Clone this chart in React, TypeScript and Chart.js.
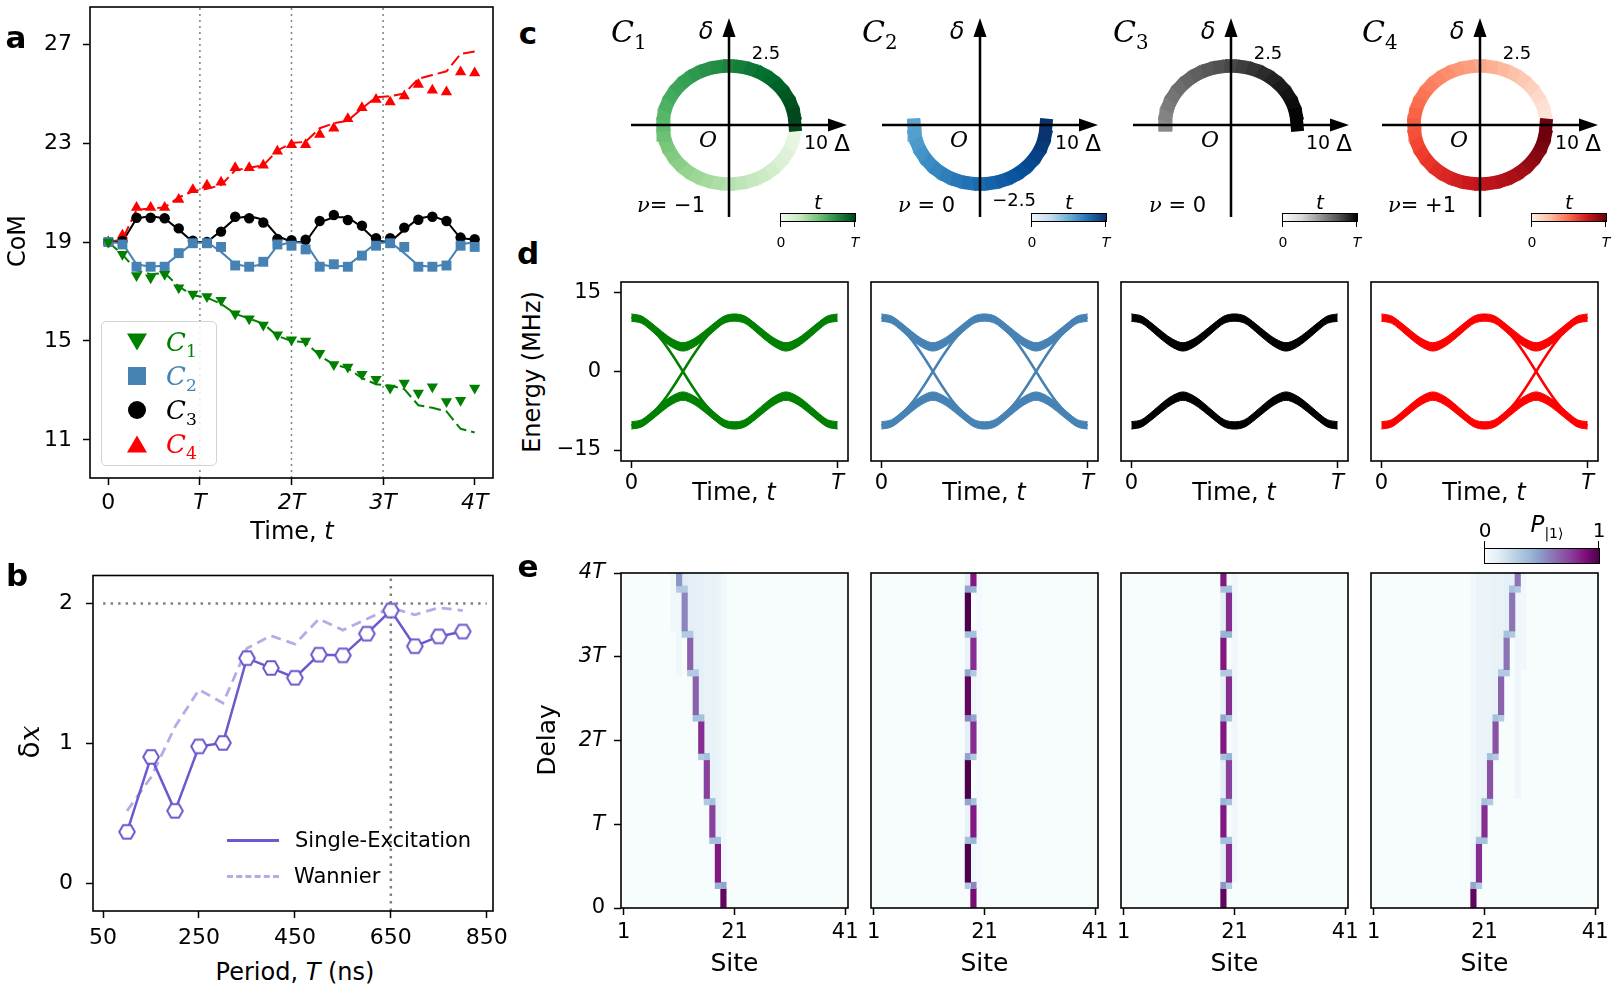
import React, { useEffect, useRef } from 'react';
import { Chart, registerables } from 'chart.js';

Chart.register(...registerables);

const FONT = '"DejaVu Sans", sans-serif';
const SERIF = '"DejaVu Serif", serif';
Chart.defaults.font.family = FONT;
Chart.defaults.color = '#000';

// ================= DATA =================
// ---- panel a : centre of mass vs time ----
const timeA = [0, 0.154, 0.308, 0.462, 0.615, 0.769, 0.923, 1.077, 1.231, 1.385, 1.538, 1.692, 1.846, 2.0, 2.154, 2.308, 2.462, 2.615, 2.769, 2.923, 3.077, 3.231, 3.385, 3.538, 3.692, 3.846, 4.0];
const comC1 = [19.0, 18.5, 17.65, 17.55, 17.7, 17.15, 16.9, 16.8, 16.65, 16.1, 15.9, 15.65, 15.25, 15.05, 15.0, 14.5, 14.05, 13.95, 13.65, 13.45, 13.1, 13.3, 12.9, 13.15, 12.55, 12.6, 13.1];
const comC2 = [19.0, 18.9, 18.0, 18.0, 18.0, 18.55, 18.95, 18.95, 18.8, 18.05, 18.0, 18.2, 18.9, 18.85, 18.7, 18.0, 18.1, 18.0, 18.45, 18.85, 18.95, 18.8, 18.0, 18.0, 18.05, 18.85, 18.8];
const comC3 = [19.0, 19.04, 19.98, 19.98, 19.96, 19.55, 19.05, 19.0, 19.42, 20.02, 19.96, 19.79, 19.12, 19.07, 19.09, 19.85, 20.09, 19.89, 19.66, 19.15, 19.15, 19.58, 19.9, 20.02, 19.85, 19.18, 19.11];
const comC4 = [19.0, 19.27, 20.39, 20.39, 20.39, 20.72, 21.11, 21.29, 21.42, 22.0, 22.0, 22.1, 22.67, 22.93, 22.93, 23.35, 23.6, 23.98, 24.43, 24.76, 24.66, 24.9, 25.37, 25.13, 25.06, 25.87, 25.83];
const theoryC1 = [19.0, 18.5, 17.85, 17.7, 17.75, 17.2, 16.85, 16.75, 16.5, 16.1, 15.9, 15.7, 15.2, 15.0, 14.95, 14.4, 14.05, 13.9, 13.5, 13.25, 13.2, 13.05, 12.4, 12.3, 12.15, 11.45, 11.3];
const theoryC2 = [19.0, 18.95, 18.1, 18.0, 18.05, 18.5, 18.95, 19.0, 18.6, 18.1, 18.0, 18.1, 18.85, 19.0, 18.95, 18.1, 18.0, 18.05, 18.5, 18.95, 19.0, 18.55, 18.05, 18.0, 18.1, 18.9, 19.0];
const theoryC3 = [19.0, 19.0, 19.95, 20.05, 19.95, 19.5, 19.0, 19.0, 19.45, 19.95, 20.05, 19.9, 19.25, 19.0, 19.0, 19.8, 20.0, 20.0, 19.6, 19.05, 19.0, 19.5, 19.95, 20.05, 19.85, 19.15, 19.1];
const theoryC4 = [19.0, 19.1, 20.3, 20.35, 20.4, 20.8, 21.05, 21.15, 21.3, 21.9, 22.0, 22.1, 22.7, 23.0, 23.05, 23.6, 23.8, 23.9, 24.4, 24.85, 24.9, 25.0, 25.6, 25.75, 25.9, 26.6, 26.7];
const timeTicks = [0, 1, 2, 3, 4];
const timeTickLabels = ['0', 'T', '2T', '3T', '4T'];
const comTicks = [11, 15, 19, 23, 27];
const periodMarks = [1, 2, 3];

// ---- panel b : displacement vs period ----
const periodB = [100, 150, 200, 250, 300, 350, 400, 450, 500, 550, 600, 650, 700, 750, 800];
const shiftSingle = [0.37, 0.905, 0.52, 0.98, 1.005, 1.61, 1.54, 1.47, 1.635, 1.63, 1.785, 1.95, 1.695, 1.765, 1.8];
const shiftWannier = [0.52, 0.76, 1.12, 1.385, 1.29, 1.68, 1.77, 1.71, 1.89, 1.81, 1.89, 1.97, 1.92, 1.97, 1.95];
const periodTicks = [50, 250, 450, 650, 850];
const shiftTicks = [0, 1, 2];
const idealShift = 2;
const bestPeriod = 650;

// ---- panel c : pumping contours in (Delta, delta) plane ----
const contourDelta = [10, 9.85, 9.4, 8.66, 7.66, 6.43, 5, 3.42, 1.74, 0, -1.74, -3.42, -5, -6.43, -7.66, -8.66, -9.4, -9.85, -10, -9.85, -9.4, -8.66, -7.66, -6.43, -5, -3.42, -1.74, 0, 1.74, 3.42, 5, 6.43, 7.66, 8.66, 9.4, 9.85, 10];
const contourSmall = [0, 0.43, 0.86, 1.25, 1.61, 1.92, 2.17, 2.35, 2.46, 2.5, 2.46, 2.35, 2.17, 1.92, 1.61, 1.25, 0.86, 0.43, 0, -0.43, -0.86, -1.25, -1.61, -1.92, -2.17, -2.35, -2.46, -2.5, -2.46, -2.35, -2.17, -1.92, -1.61, -1.25, -0.86, -0.43, 0];
const windingNumbers = ['= \u22121', ' = 0', ' = 0', '= +1'];

// ---- panel d : instantaneous spectra ----
const tBand = [0, 0.05, 0.1, 0.15, 0.2, 0.25, 0.3, 0.35, 0.4, 0.45, 0.5, 0.55, 0.6, 0.65, 0.7, 0.75, 0.8, 0.85, 0.9, 0.95, 1];
const upperBandTop = [11.0, 10.6, 9.2, 7.6, 6.2, 5.5, 6.2, 7.6, 9.2, 10.6, 11.0, 10.6, 9.2, 7.6, 6.2, 5.5, 6.2, 7.6, 9.2, 10.6, 11.0];
const upperBandBottom = [9.6, 9.2, 7.7, 6.0, 4.6, 3.9, 4.6, 6.0, 7.7, 9.2, 9.6, 9.2, 7.7, 6.0, 4.6, 3.9, 4.6, 6.0, 7.7, 9.2, 9.6];
const lowerBandTop = [-9.6, -9.2, -7.7, -6.0, -4.6, -3.9, -4.6, -6.0, -7.7, -9.2, -9.6, -9.2, -7.7, -6.0, -4.6, -3.9, -4.6, -6.0, -7.7, -9.2, -9.6];
const lowerBandBottom = [-11.0, -10.6, -9.2, -7.6, -6.2, -5.5, -6.2, -7.6, -9.2, -10.6, -11.0, -10.6, -9.2, -7.6, -6.2, -5.5, -6.2, -7.6, -9.2, -10.6, -11.0];
const tEdgeFirst = [0, 0.05, 0.1, 0.15, 0.2, 0.25, 0.3, 0.35, 0.4, 0.45, 0.5];
const tEdgeSecond = [0.5, 0.55, 0.6, 0.65, 0.7, 0.75, 0.8, 0.85, 0.9, 0.95, 1];
const edgeDown = [10.3, 9.8, 8.1, 5.9, 3.1, 0, -3.1, -5.9, -8.1, -9.8, -10.3];
const edgeUp = [-10.3, -9.8, -8.1, -5.9, -3.1, 0, 3.1, 5.9, 8.1, 9.8, 10.3];
const edgeHalves = [[true, false], [true, true], [false, false], [false, true]];
const energyTicks = [-15, 0, 15];
const bandTicks = [0, 1];
const bandTickLabels = ['0', 'T'];

// ---- panel e : site populations (site, firstRow, lastRow, P) ; row = T/13 ----
const siteTicks = [1, 21, 41];
const heatC1 = [[19, 0, 2, 0.95], [19, 3, 3, 0.45], [18, 3, 3, 0.4], [18, 4, 9, 0.85], [18, 10, 10, 0.35], [17, 10, 10, 0.35], [17, 11, 15, 0.75], [17, 16, 16, 0.35], [16, 16, 16, 0.3], [16, 17, 22, 0.75], [16, 23, 23, 0.35], [15, 23, 23, 0.3], [15, 24, 28, 0.8], [15, 29, 29, 0.35], [14, 29, 29, 0.35], [14, 30, 35, 0.65], [14, 36, 36, 0.3], [13, 36, 36, 0.3], [13, 37, 41, 0.65], [13, 42, 42, 0.3], [12, 42, 42, 0.3], [12, 43, 48, 0.55], [12, 49, 49, 0.3], [11, 49, 49, 0.3], [11, 50, 51, 0.5]];
const hazeC1 = [[19, 19, 4, 51, 0.03], [18, 18, 11, 51, 0.07], [17, 17, 17, 51, 0.08], [16, 16, 24, 51, 0.08], [15, 15, 30, 51, 0.09], [14, 14, 37, 51, 0.1], [13, 13, 43, 51, 0.1], [12, 12, 50, 51, 0.12], [11, 11, 36, 48, 0.03], [10, 10, 43, 51, 0.04]];
const heatC2 = [[19, 0, 2, 0.9], [19, 3, 3, 0.55], [18, 3, 3, 0.3], [18, 4, 9, 1.0], [18, 10, 10, 0.35], [19, 10, 10, 0.4], [19, 11, 15, 0.85], [19, 16, 16, 0.35], [18, 16, 16, 0.45], [18, 17, 22, 1.0], [18, 23, 23, 0.45], [19, 23, 23, 0.3], [19, 24, 28, 0.8], [19, 29, 29, 0.45], [18, 29, 29, 0.55], [18, 30, 35, 0.95], [18, 36, 36, 0.45], [19, 36, 36, 0.3], [19, 37, 41, 0.8], [19, 42, 42, 0.35], [18, 42, 42, 0.35], [18, 43, 48, 1.0], [18, 49, 49, 0.45], [19, 49, 49, 0.4], [19, 50, 51, 0.85]];
const hazeC2 = [[18, 18, 11, 15, 0.08], [18, 18, 24, 28, 0.1], [18, 18, 37, 41, 0.08], [18, 18, 50, 51, 0.1], [19, 19, 4, 9, 0.04], [19, 19, 30, 35, 0.05], [20, 20, 0, 51, 0.02]];
const heatC3 = [[19, 0, 2, 0.95], [19, 3, 3, 0.5], [20, 3, 3, 0.3], [20, 4, 9, 0.8], [20, 10, 10, 0.35], [19, 10, 10, 0.35], [19, 11, 15, 0.85], [19, 16, 16, 0.4], [20, 16, 16, 0.35], [20, 17, 22, 0.75], [20, 23, 23, 0.4], [19, 23, 23, 0.35], [19, 24, 28, 0.85], [19, 29, 29, 0.45], [20, 29, 29, 0.35], [20, 30, 35, 0.8], [20, 36, 36, 0.3], [19, 36, 36, 0.3], [19, 37, 41, 0.85], [19, 42, 42, 0.4], [20, 42, 42, 0.4], [20, 43, 48, 0.8], [20, 49, 49, 0.35], [19, 49, 49, 0.35], [19, 50, 51, 0.85]];
const hazeC3 = [[19, 19, 4, 9, 0.1], [19, 19, 17, 22, 0.1], [19, 19, 30, 35, 0.08], [19, 19, 43, 48, 0.1], [21, 21, 4, 51, 0.04]];
const heatC4 = [[19, 0, 2, 0.95], [19, 3, 3, 0.45], [20, 3, 3, 0.3], [20, 4, 9, 0.8], [20, 10, 10, 0.35], [21, 10, 10, 0.35], [21, 11, 15, 0.8], [21, 16, 16, 0.35], [22, 16, 16, 0.3], [22, 17, 22, 0.7], [22, 23, 23, 0.35], [23, 23, 23, 0.3], [23, 24, 28, 0.7], [23, 29, 29, 0.35], [24, 29, 29, 0.3], [24, 30, 35, 0.65], [24, 36, 36, 0.3], [25, 36, 36, 0.3], [25, 37, 41, 0.6], [25, 42, 42, 0.35], [26, 42, 42, 0.3], [26, 43, 48, 0.6], [26, 49, 49, 0.35], [27, 49, 49, 0.3], [27, 50, 51, 0.6]];
const hazeC4 = [[19, 19, 4, 51, 0.03], [20, 20, 11, 51, 0.06], [21, 21, 17, 51, 0.07], [22, 22, 24, 51, 0.07], [23, 23, 30, 51, 0.08], [24, 24, 37, 51, 0.08], [25, 25, 43, 51, 0.09], [26, 26, 50, 51, 0.1], [27, 27, 17, 48, 0.04], [28, 28, 37, 51, 0.03]];
const rowsPerPeriod = 13;

// ================= STYLE / LAYOUT =================
const COLORS = ['#008000', '#4682b4', '#000000', '#ff0000'];
const GREENS = ['#f7fcf5', '#e5f5e0', '#c7e9c0', '#a1d99b', '#74c476', '#41ab5d', '#238b45', '#006d2c', '#00441b'];
const BLUES = ['#f7fbff', '#deebf7', '#c6dbef', '#9ecae1', '#6baed6', '#4292c6', '#2171b5', '#08519c', '#08306b'];
const GREYS = ['#ffffff', '#f0f0f0', '#d9d9d9', '#bdbdbd', '#969696', '#737373', '#525252', '#252525', '#000000'];
const REDS = ['#fff5f0', '#fee0d2', '#fcbba1', '#fc9272', '#fb6a4a', '#ef3b2c', '#cb181d', '#a50f15', '#67000d'];
const BUPU = ['#f7fcfd', '#e0ecf4', '#bfd3e6', '#9ebcda', '#8c96c6', '#8c6bb1', '#88419d', '#810f7c', '#4d004b'];
const CMAPS = [GREENS, BLUES, GREYS, REDS];
const COLS = [621, 871, 1121, 1371];
const COL_W = 227;
const C_ORIGINS = [729, 980, 1231, 1480];

function hexRgb(h: string) {
  return [parseInt(h.slice(1, 3), 16), parseInt(h.slice(3, 5), 16), parseInt(h.slice(5, 7), 16)];
}
function cmap(stops: string[], v: number) {
  const c = Math.min(1, Math.max(0, v));
  const n = stops.length - 1;
  const f = c * n;
  const i = Math.min(n - 1, Math.floor(f));
  const u = f - i;
  const a = hexRgb(stops[i]);
  const b = hexRgb(stops[i + 1]);
  return `rgb(${Math.round(a[0] + (b[0] - a[0]) * u)},${Math.round(a[1] + (b[1] - a[1]) * u)},${Math.round(a[2] + (b[2] - a[2]) * u)})`;
}
function gradientCss(stops: string[]) {
  return `linear-gradient(to right, ${stops.join(', ')})`;
}

type Box = { l: number; t: number; w: number; h: number };
type Margin = { l: number; t: number; r: number; b: number };

const framePlugin = {
  id: 'frame',
  afterDraw(chart: any) {
    const { ctx, chartArea: a } = chart;
    ctx.save();
    ctx.strokeStyle = '#000';
    ctx.lineWidth = 1.6;
    ctx.strokeRect(a.left, a.top, a.right - a.left, a.bottom - a.top);
    ctx.restore();
  },
};

const heatBgPlugin = {
  id: 'heatBg',
  beforeDatasetsDraw(chart: any) {
    const { ctx, chartArea: a } = chart;
    ctx.save();
    ctx.fillStyle = BUPU[0];
    ctx.fillRect(a.left, a.top, a.right - a.left, a.bottom - a.top);
    ctx.restore();
  },
};

const AXIS_DELTA_RANGE = [-14.85, 17.88];
const AXIS_SMALL_RANGE = [-3.9, 4.53];
const arrowPlugin = {
  id: 'arrows',
  afterDatasetsDraw(chart: any) {
    const { ctx, scales } = chart;
    const sx = scales.x;
    const sy = scales.y;
    const ox = sx.getPixelForValue(0);
    const oy = sy.getPixelForValue(0);
    const x0 = sx.getPixelForValue(AXIS_DELTA_RANGE[0]);
    const x1 = sx.getPixelForValue(AXIS_DELTA_RANGE[1]);
    const y0 = sy.getPixelForValue(AXIS_SMALL_RANGE[0]);
    const y1 = sy.getPixelForValue(AXIS_SMALL_RANGE[1]);
    ctx.save();
    ctx.strokeStyle = '#000';
    ctx.fillStyle = '#000';
    ctx.lineWidth = 2.5;
    ctx.beginPath();
    ctx.moveTo(x0, oy);
    ctx.lineTo(x1 - 15, oy);
    ctx.moveTo(ox, y0);
    ctx.lineTo(ox, y1 + 15);
    ctx.stroke();
    ctx.beginPath();
    ctx.moveTo(x1, oy);
    ctx.lineTo(x1 - 19, oy - 6.5);
    ctx.lineTo(x1 - 19, oy + 6.5);
    ctx.closePath();
    ctx.fill();
    ctx.beginPath();
    ctx.moveTo(ox, y1);
    ctx.lineTo(ox - 6.5, y1 + 19);
    ctx.lineTo(ox + 6.5, y1 + 19);
    ctx.closePath();
    ctx.fill();
    ctx.restore();
  },
};

function linAxis(o: any) {
  return {
    type: 'linear',
    min: o.min,
    max: o.max,
    display: o.show,
    offset: false,
    afterBuildTicks: (s: any) => {
      s.ticks = (o.ticks || []).map((v: number) => ({ value: v }));
    },
    afterFit: (s: any) => {
      if (!o.show) return;
      if (o.horiz) s.height = o.fit;
      else s.width = o.fit;
      s.paddingLeft = 0;
      s.paddingRight = 0;
      s.paddingTop = 0;
      s.paddingBottom = 0;
    },
    grid: { display: true, drawOnChartArea: false, drawTicks: true, tickLength: 7, tickColor: '#000', tickWidth: 1.5, offset: false },
    border: { display: false },
    ticks: {
      color: '#000',
      padding: o.pad ?? 6,
      autoSkip: false,
      maxRotation: 0,
      minRotation: 0,
      font: (ctx: any) => ({ family: FONT, size: o.size ?? 21, style: ctx.tick && String(ctx.tick.label).includes('T') ? 'italic' : 'normal' }),
      callback: (v: any) => (o.fmt ? o.fmt(Number(v)) : String(v)),
    },
  };
}

function baseOptions(m: Margin, showX: boolean, showY: boolean, x: any, y: any) {
  return {
    responsive: false,
    animation: false,
    devicePixelRatio: 1,
    events: [],
    layout: { padding: { left: showY ? 0 : m.l, right: m.r, top: m.t, bottom: showX ? 0 : m.b } },
    plugins: { legend: { display: false }, tooltip: { enabled: false } },
    scales: { x, y },
  };
}

function ChartCanvas({ box, m, build }: { box: Box; m: Margin; build: () => any }) {
  const ref = useRef<HTMLCanvasElement>(null);
  const W = box.w + m.l + m.r;
  const H = box.h + m.t + m.b;
  useEffect(() => {
    const chart = new Chart(ref.current as HTMLCanvasElement, build());
    return () => chart.destroy();
  }, []);
  return <canvas ref={ref} width={W} height={H} style={{ position: 'absolute', left: box.l - m.l, top: box.t - m.t, width: W, height: H }} />;
}

function Txt({ x, y, size = 22, anchor = 'middle', rotate = 0, weight = 'normal', color = '#000', family = FONT, italic = false, children }: any) {
  const tx = anchor === 'start' ? '0%' : anchor === 'end' ? '-100%' : '-50%';
  return (
    <div
      style={{
        position: 'absolute', left: x, top: y, transform: `translate(${tx}, -50%) rotate(${rotate}deg)`,
        fontSize: size, fontFamily: family, fontWeight: weight, fontStyle: italic ? 'italic' : 'normal',
        color, whiteSpace: 'nowrap', lineHeight: 1,
      }}
    >
      {children}
    </div>
  );
}

const I = ({ children }: any) => <span style={{ fontStyle: 'italic' }}>{children}</span>;
const CalC = ({ k, size = 28, color = '#000' }: any) => (
  <span style={{ fontFamily: SERIF, fontStyle: 'italic', fontSize: size, color }}>
    C<span style={{ fontStyle: 'normal', fontSize: size * 0.66, position: 'relative', top: size * 0.22 }}>{k}</span>
  </span>
);

// ================= PANEL A =================
function buildA() {
  const series = [comC1, comC2, comC3, comC4];
  const theories = [theoryC1, theoryC2, theoryC3, theoryC4];
  const styles = ['triangle', 'rect', 'circle', 'triangle'];
  const radii = [6.5, 7, 5.2, 6.5];
  const rot = [180, 0, 0, 0];
  const datasets: any[] = [];
  series.forEach((s, k) => {
    datasets.push({
      data: timeA.map((t, i) => ({ x: t, y: s[i] })), showLine: false, order: 0,
      pointStyle: styles[k], pointRadius: radii[k], pointRotation: rot[k],
      pointBackgroundColor: COLORS[k], pointBorderColor: COLORS[k], pointBorderWidth: 0,
    });
  });
  theories.forEach((s, k) => {
    datasets.push({
      data: timeA.map((t, i) => ({ x: t, y: s[i] })), order: 1, pointRadius: 0,
      borderColor: COLORS[k], borderWidth: 2, borderDash: k === 0 || k === 3 ? [12, 5] : [],
    });
  });
  periodMarks.forEach((p) => {
    datasets.push({ data: [{ x: p, y: 9.46 }, { x: p, y: 28.5 }], order: 2, pointRadius: 0, borderColor: '#808080', borderWidth: 1.5, borderDash: [2, 4] });
  });
  const m = { l: 85, t: 5, r: 20, b: 40 };
  return {
    type: 'line',
    data: { datasets },
    options: baseOptions(m, true, true,
      linAxis({ min: -0.2, max: 4.2, ticks: timeTicks, fmt: (v: number) => timeTickLabels[timeTicks.indexOf(v)], size: 22, pad: 5, show: true, fit: m.b, horiz: true }),
      linAxis({ min: 9.46, max: 28.5, ticks: comTicks, size: 22, pad: 11, show: true, fit: m.l, horiz: false })),
    plugins: [framePlugin],
  };
}

function LegendA() {
  const marker = (k: number) => {
    if (k === 0) return <div style={{ width: 0, height: 0, borderLeft: '10px solid transparent', borderRight: '10px solid transparent', borderTop: `17px solid ${COLORS[0]}` }} />;
    if (k === 1) return <div style={{ width: 18, height: 18, background: COLORS[1] }} />;
    if (k === 2) return <div style={{ width: 18, height: 18, borderRadius: 9, background: COLORS[2] }} />;
    return <div style={{ width: 0, height: 0, borderLeft: '10px solid transparent', borderRight: '10px solid transparent', borderBottom: `17px solid ${COLORS[3]}` }} />;
  };
  const ys = [342, 376, 410, 444];
  return (
    <>
      <div style={{ position: 'absolute', left: 101, top: 321, width: 114, height: 143, border: '1.5px solid #d3d3d3', borderRadius: 5, background: 'rgba(255,255,255,0.85)' }} />
      {ys.map((y, k) => (
        <React.Fragment key={k}>
          <div style={{ position: 'absolute', left: 137, top: y, transform: 'translate(-50%,-50%)' }}>{marker(k)}</div>
          <Txt x={166} y={y} anchor="start"><CalC k={k + 1} size={26} color={COLORS[k]} /></Txt>
        </React.Fragment>
      ))}
    </>
  );
}

// ================= PANEL B =================
function hexMarker(color: string) {
  const c = document.createElement('canvas');
  c.width = 20;
  c.height = 20;
  const g = c.getContext('2d') as CanvasRenderingContext2D;
  g.beginPath();
  for (let k = 0; k < 6; k++) {
    const a = (Math.PI / 3) * k;
    const px = 10 + 7.8 * Math.cos(a);
    const py = 10 + 7.8 * Math.sin(a);
    if (k === 0) g.moveTo(px, py);
    else g.lineTo(px, py);
  }
  g.closePath();
  g.fillStyle = '#fff';
  g.fill();
  g.lineWidth = 2;
  g.strokeStyle = color;
  g.stroke();
  return c;
}

function buildB() {
  const m = { l: 80, t: 10, r: 25, b: 45 };
  const datasets: any[] = [
    { data: periodB.map((p, i) => ({ x: p, y: shiftSingle[i] })), order: 0, borderColor: '#6a5acd', borderWidth: 2.5, pointStyle: hexMarker('#6a5acd'), pointRadius: 8 },
    { data: periodB.map((p, i) => ({ x: p, y: shiftWannier[i] })), order: 1, borderColor: '#b4ace6', borderWidth: 2.8, borderDash: [10, 6], pointRadius: 0 },
    { data: [{ x: 50, y: idealShift }, { x: 850, y: idealShift }], order: 2, borderColor: '#808080', borderWidth: 2.5, borderDash: [2.5, 5], pointRadius: 0 },
    { data: [{ x: bestPeriod, y: -0.195 }, { x: bestPeriod, y: 2.2 }], order: 2, borderColor: '#808080', borderWidth: 2.5, borderDash: [2.5, 5], pointRadius: 0 },
  ];
  return {
    type: 'line',
    data: { datasets },
    options: baseOptions(m, true, true,
      linAxis({ min: 29, max: 863, ticks: periodTicks, size: 22, pad: 7, show: true, fit: m.b, horiz: true }),
      linAxis({ min: -0.195, max: 2.2, ticks: shiftTicks, size: 22, pad: 13, show: true, fit: m.l, horiz: false })),
    plugins: [framePlugin],
  };
}

// ================= PANEL C =================
function buildC(k: number) {
  const n = contourDelta.length - 1;
  const pts = contourDelta.map((d, i) => {
    const s = contourSmall[i];
    const y = k === 0 ? -s : k === 1 ? -Math.abs(s) : k === 2 ? Math.abs(s) : s;
    return { x: d, y };
  });
  const m = { l: 0, t: 0, r: 0, b: 0 };
  return {
    type: 'line',
    data: {
      datasets: [{
        data: pts, pointRadius: 0, borderWidth: 13, borderCapStyle: 'square', borderColor: cmap(CMAPS[k], 0.5),
        segment: { borderColor: (ctx: any) => cmap(CMAPS[k], 0.06 + (0.94 * (ctx.p0DataIndex + 0.5)) / n) },
      }],
    },
    options: baseOptions(m, false, false,
      { type: 'linear', display: false, min: -110 / 6.6, max: 140 / 6.6 },
      { type: 'linear', display: false, min: -125 / 23.6, max: 125 / 23.6 }),
    plugins: [arrowPlugin],
  };
}

function PanelCLabels({ k }: { k: number }) {
  const ox = C_ORIGINS[k];
  const cb = CMAPS[k];
  const cbStops = [cmap(cb, 0.06), cmap(cb, 0.25), cmap(cb, 0.5), cmap(cb, 0.75), cmap(cb, 1)];
  return (
    <>
      <Txt x={ox - 118} y={32} anchor="start"><CalC k={k + 1} size={30} /></Txt>
      <Txt x={ox - 23} y={31} size={24} italic>δ</Txt>
      {k === 1 ? <Txt x={ox + 34} y={200} size={18}>−2.5</Txt> : <Txt x={ox + 37} y={53} size={18}>2.5</Txt>}
      <Txt x={ox - 21} y={140} size={22} family={SERIF} italic>O</Txt>
      <Txt x={ox + 87} y={142} size={19}>10</Txt>
      <Txt x={ox + 113} y={143} size={23}>Δ</Txt>
      <Txt x={k === 0 || k === 3 ? ox - 92 : ox - 82} y={205} anchor="start" size={21}>
        <span style={{ fontFamily: SERIF, fontStyle: 'italic' }}>ν</span>{windingNumbers[k]}
      </Txt>
      <div style={{ position: 'absolute', left: ox + 51, top: 213, width: 74, height: 7, background: gradientCss(cbStops), border: '1px solid #000' }} />
      <div style={{ position: 'absolute', left: ox + 51, top: 220, width: 1.2, height: 7, background: '#000' }} />
      <div style={{ position: 'absolute', left: ox + 125, top: 220, width: 1.2, height: 7, background: '#000' }} />
      <Txt x={ox + 89} y={202} size={20} italic>t</Txt>
      <Txt x={ox + 52} y={242} size={14}>0</Txt>
      <Txt x={ox + 126} y={242} size={14} italic>T</Txt>
    </>
  );
}

// ================= PANEL D =================
function buildD(k: number) {
  const color = COLORS[k];
  const first = k === 0;
  const m = { l: 70, t: 12, r: 25, b: 40 };
  const line = (ys: number[], fill: any) => ({
    data: tBand.map((t, i) => ({ x: t, y: ys[i] })), pointRadius: 0, borderColor: color, borderWidth: 1,
    cubicInterpolationMode: 'monotone', fill, backgroundColor: color,
  });
  const datasets: any[] = [line(upperBandTop, false), line(upperBandBottom, '-1'), line(lowerBandTop, false), line(lowerBandBottom, '-1')];
  const halves = edgeHalves[k];
  [tEdgeFirst, tEdgeSecond].forEach((ts, h) => {
    if (!halves[h]) return;
    [edgeDown, edgeUp].forEach((ys) => {
      datasets.push({ data: ts.map((t, i) => ({ x: t, y: ys[i] })), pointRadius: 0, borderColor: color, borderWidth: 2.5, cubicInterpolationMode: 'monotone', fill: false });
    });
  });
  return {
    type: 'line',
    data: { datasets },
    options: baseOptions(m, true, first,
      linAxis({ min: -0.05, max: 1.05, ticks: bandTicks, fmt: (v: number) => bandTickLabels[bandTicks.indexOf(v)], size: 21, pad: 3, show: true, fit: m.b, horiz: true }),
      linAxis({ min: -17.1, max: 17.1, ticks: energyTicks, fmt: (v: number) => (v < 0 ? '\u2212' + Math.abs(v) : String(v)), size: 21, pad: 13, show: first, fit: m.l, horiz: false })),
    plugins: [framePlugin],
  };
}

// ================= PANEL E =================
function buildE(k: number) {
  const cells = [heatC1, heatC2, heatC3, heatC4][k];
  const haze = [hazeC1, hazeC2, hazeC3, hazeC4][k];
  const first = k === 0;
  const data: any[] = [];
  haze.forEach(([s0, s1, r0, r1, p]) => {
    for (let s = s0; s <= s1; s++) data.push({ x: s, y: [r0 / rowsPerPeriod, (r1 + 1) / rowsPerPeriod], p });
  });
  cells.forEach(([s, r0, r1, p]) => data.push({ x: s, y: [r0 / rowsPerPeriod, (r1 + 1) / rowsPerPeriod], p }));
  const m = { l: 70, t: 15, r: 25, b: 40 };
  return {
    type: 'bar',
    data: {
      datasets: [{
        data, borderWidth: 0, barPercentage: 1, categoryPercentage: 1, grouped: false,
        backgroundColor: (ctx: any) => (ctx.raw ? cmap(BUPU, ctx.raw.p) : BUPU[4]),
      }],
    },
    options: baseOptions(m, true, first,
      linAxis({ min: 0.5, max: 41.5, ticks: siteTicks, size: 21, pad: 5, show: true, fit: m.b, horiz: true }),
      linAxis({ min: 0, max: 4, ticks: timeTicks, fmt: (v: number) => timeTickLabels[timeTicks.indexOf(v)], size: 21, pad: 9, show: first, fit: m.l, horiz: false })),
    plugins: [heatBgPlugin, framePlugin],
  };
}

// ================= APP =================
export default function App() {
  const boxA: Box = { l: 90, t: 5, w: 403, h: 473 };
  const boxB: Box = { l: 93, t: 575, w: 400, h: 336 };
  return (
    <div style={{ position: 'absolute', left: 0, top: 0, width: 1612, height: 986, background: '#fff', overflow: 'hidden', fontFamily: FONT }}>
      {/* panel a */}
      <ChartCanvas box={boxA} m={{ l: 85, t: 5, r: 20, b: 40 }} build={buildA} />
      <LegendA />
      <Txt x={16} y={37} size={31} weight="bold">a</Txt>
      <Txt x={17} y={241} size={24} rotate={-90}>CoM</Txt>
      <Txt x={292} y={531} size={24}>Time, <I>t</I></Txt>

      {/* panel b */}
      <ChartCanvas box={boxB} m={{ l: 80, t: 10, r: 25, b: 45 }} build={buildB} />
      <Txt x={17} y={575} size={31} weight="bold">b</Txt>
      <Txt x={30} y={742} size={28} rotate={-90}>δ<span style={{ fontFamily: SERIF, fontStyle: 'italic' }}>x</span></Txt>
      <Txt x={295} y={972} size={24}>Period, <I>T</I> (ns)</Txt>
      <div style={{ position: 'absolute', left: 227, top: 839, width: 52, height: 0, borderTop: '3px solid #6a5acd' }} />
      <div style={{ position: 'absolute', left: 227, top: 875, width: 52, height: 0, borderTop: '3px dashed #b4ace6' }} />
      <Txt x={295} y={840} anchor="start" size={21}>Single-Excitation</Txt>
      <Txt x={294} y={876} anchor="start" size={21}>Wannier</Txt>

      {/* panel c */}
      <Txt x={528} y={33} size={31} weight="bold">c</Txt>
      {C_ORIGINS.map((ox, k) => (
        <ChartCanvas key={'c' + k} box={{ l: ox - 110, t: 0, w: 250, h: 250 }} m={{ l: 0, t: 0, r: 0, b: 0 }} build={() => buildC(k)} />
      ))}
      {C_ORIGINS.map((_, k) => <PanelCLabels key={'cl' + k} k={k} />)}

      {/* panel d */}
      <Txt x={528} y={253} size={31} weight="bold">d</Txt>
      <Txt x={532} y={372} size={24} rotate={-90}>Energy (MHz)</Txt>
      {COLS.map((l, k) => (
        <ChartCanvas key={'d' + k} box={{ l, t: 282, w: COL_W, h: 179 }} m={{ l: 70, t: 12, r: 25, b: 40 }} build={() => buildD(k)} />
      ))}
      {COLS.map((l, k) => <Txt key={'dt' + k} x={l + 113} y={492} size={24}>Time, <I>t</I></Txt>)}

      {/* panel e */}
      <Txt x={528} y={566} size={31} weight="bold">e</Txt>
      <Txt x={546} y={740} size={25} rotate={-90}>Delay</Txt>
      {COLS.map((l, k) => (
        <ChartCanvas key={'e' + k} box={{ l, t: 573, w: COL_W, h: 335 }} m={{ l: 70, t: 15, r: 25, b: 40 }} build={() => buildE(k)} />
      ))}
      {COLS.map((l, k) => <Txt key={'et' + k} x={l + 113.5} y={962} size={25}>Site</Txt>)}
      <div style={{ position: 'absolute', left: 1484, top: 548, width: 114, height: 14, background: gradientCss(BUPU), border: '1px solid #000' }} />
      <div style={{ position: 'absolute', left: 1484, top: 541, width: 1.2, height: 7, background: '#000' }} />
      <div style={{ position: 'absolute', left: 1598, top: 541, width: 1.2, height: 7, background: '#000' }} />
      <Txt x={1485} y={530} size={20}>0</Txt>
      <Txt x={1599} y={530} size={20}>1</Txt>
      <Txt x={1547} y={524} size={23}><I>P</I><span style={{ fontSize: 14, position: 'relative', top: 6 }}>|1⟩</span></Txt>
    </div>
  );
}
